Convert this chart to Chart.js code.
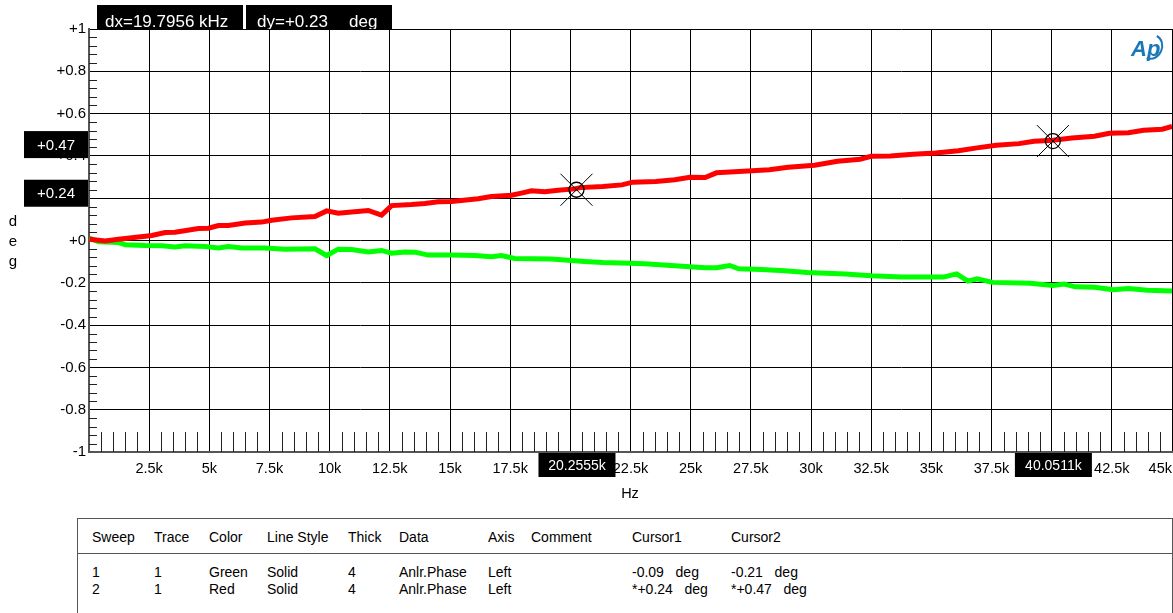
<!DOCTYPE html>
<html>
<head>
<meta charset="utf-8">
<script src="https://cdn.jsdelivr.net/npm/chart.js@4.4.1/dist/chart.umd.min.js"></script>
<style>
  body { margin: 0; background: #fff; font-family: Arial, "Liberation Sans", sans-serif; }
  #wrap { position: relative; width: 1173px; height: 613px; overflow: hidden; }
  #phaseChart { position: absolute; left: 0; top: 0; }
  #traceTable { position: absolute; left: 77px; top: 518px; width: 1094px; height: 120px;
    border: 1px solid #555; font-size: 14px; color: #000; }
  #traceTable .sep { position: absolute; left: 0; right: 0; top: 34px; border-top: 1px solid #555; }
  #traceTable span { position: absolute; white-space: pre; line-height: 16px; }
</style>
</head>
<body>
<div id="wrap">
  <canvas id="phaseChart" width="1173" height="510"></canvas>
  <div id="traceTable"><div class="sep"></div></div>
</div>
<script>
// sweep 1 (green) and sweep 2 (red), phase in deg vs frequency in Hz
const greenHz = [20, 397, 1227, 1504, 2334, 3026, 3579, 3994, 4825, 5378,
  5793, 6347, 7315, 8145, 9390, 9874, 10358, 10912, 11603, 12157,
  12572, 13125, 13540, 14094, 15062, 16031, 16722, 17137, 17691, 19212,
  20042, 20595, 21350, 22450, 23080, 24020, 24810, 25600, 26070, 26620,
  27000, 27950, 28900, 29840, 31410, 32500, 33770, 35500, 36050, 36520,
  36900, 37540, 39100, 40050, 40520, 40990, 41780, 42570, 43190, 43980, 45000];
const greenDeg = [0.011, -0.006, -0.009, -0.020, -0.024, -0.025, -0.031, -0.025, -0.028, -0.035,
  -0.028, -0.035, -0.035, -0.041, -0.039, -0.071, -0.041, -0.043, -0.054, -0.047,
  -0.060, -0.054, -0.055, -0.069, -0.068, -0.071, -0.077, -0.071, -0.085, -0.088,
  -0.094, -0.099, -0.104, -0.107, -0.110, -0.117, -0.123, -0.129, -0.129, -0.118,
  -0.134, -0.137, -0.143, -0.151, -0.158, -0.167, -0.173, -0.173, -0.158, -0.192,
  -0.181, -0.198, -0.202, -0.213, -0.206, -0.219, -0.221, -0.233, -0.227, -0.235, -0.239];

const redHz = [20, 674, 1227, 2611, 3164, 3579, 4548, 4963, 5378, 5793,
  6485, 7176, 7591, 8421, 9390, 9874, 10358, 10912, 11603, 12157,
  12572, 13402, 13956, 14509, 15062, 16169, 16722, 17552, 17967, 18382,
  18935, 19489, 20180, 20410, 21350, 22140, 22600, 23550, 24340, 24970,
  25600, 26070, 27000, 28270, 29050, 30150, 31100, 32040, 32500, 33300,
  34240, 35180, 36120, 36900, 37700, 38640, 39270, 40050, 40840, 41780,
  42400, 43190, 43820, 44600, 45000];
const redDeg = [0.006, -0.002, 0.006, 0.024, 0.038, 0.039, 0.057, 0.058, 0.071, 0.071,
  0.083, 0.087, 0.096, 0.107, 0.113, 0.140, 0.129, 0.135, 0.142, 0.120,
  0.165, 0.170, 0.175, 0.183, 0.184, 0.197, 0.208, 0.214, 0.224, 0.235,
  0.230, 0.238, 0.244, 0.250, 0.255, 0.263, 0.276, 0.279, 0.287, 0.299,
  0.298, 0.320, 0.326, 0.335, 0.346, 0.356, 0.375, 0.384, 0.398, 0.400,
  0.408, 0.414, 0.424, 0.438, 0.450, 0.458, 0.469, 0.474, 0.485, 0.493,
  0.507, 0.510, 0.521, 0.526, 0.539];

// cursors
const cursorHz = [20255.5, 40051.1];
const cursorDeg = [0.24, 0.47];
const cursorHzText = ['20.2555k', '40.0511k'];
const cursorDegText = ['+0.24', '+0.47'];

// legend table
const tableCols = ['Sweep', 'Trace', 'Color', 'Line Style', 'Thick', 'Data', 'Axis', 'Comment', 'Cursor1', 'Cursor2'];
const tableRows = [
  ['1', '1', 'Green', 'Solid', '4', 'Anlr.Phase', 'Left', '', '-0.09   deg', '-0.21   deg'],
  ['2', '1', 'Red', 'Solid', '4', 'Anlr.Phase', 'Left', '', '*+0.24   deg', '*+0.47   deg']
];
const colX = [14, 76, 131, 189, 270, 321, 410, 453, 554, 653];

const FONT = 'Arial, "Liberation Sans", sans-serif';

const table = document.getElementById('traceTable');
function cell(text, left, top) {
  const s = document.createElement('span');
  s.textContent = text;
  s.style.left = left + 'px';
  s.style.top = top + 'px';
  table.appendChild(s);
}
tableCols.forEach((c, i) => cell(c, colX[i], 10));
tableRows.forEach((r, j) => r.forEach((c, i) => cell(c, colX[i], 45 + j * 17)));

// black readout box; parts = [[text, x], ...] or a single centred text
function blackTag(ctx, x, y, w, h, parts, size) {
  ctx.save();
  ctx.fillStyle = '#000';
  ctx.fillRect(x, y, w, h);
  ctx.beginPath();
  ctx.rect(x, y, w, h);
  ctx.clip();
  ctx.fillStyle = '#fff';
  ctx.font = size + 'px ' + FONT;
  if (typeof parts === 'string') {
    ctx.textAlign = 'center';
    ctx.textBaseline = 'middle';
    ctx.fillText(parts, x + w / 2, y + h / 2 + 1);
  } else {
    ctx.textAlign = 'left';
    ctx.textBaseline = 'alphabetic';
    parts.forEach(p => ctx.fillText(p[0], p[1], y + h - 2));
  }
  ctx.restore();
}

const overlay = {
  id: 'overlay',
  beforeDatasetsDraw(chart) {
    const { ctx, chartArea: a, scales: { x, y } } = chart;
    ctx.save();
    ctx.strokeStyle = '#222';
    ctx.lineWidth = 1;
    ctx.beginPath();
    for (let hz = 500; hz < 45000; hz += 500) {
      if (hz % 2500 === 0) continue;
      const px = Math.round(x.getPixelForValue(hz)) + 0.5;
      ctx.moveTo(px, a.bottom - 20);
      ctx.lineTo(px, a.bottom);
    }
    for (let i = -24; i <= 24; i++) {
      if (i % 5 === 0) continue;
      const py = Math.round(y.getPixelForValue(i * 0.04)) + 0.5;
      ctx.moveTo(a.left, py);
      ctx.lineTo(a.left + 8, py);
    }
    ctx.stroke();
    ctx.restore();
  },
  afterDraw(chart) {
    const { ctx, chartArea: a, scales: { x, y } } = chart;

    // cursor markers
    ctx.save();
    ctx.strokeStyle = '#000';
    cursorHz.forEach((hz, i) => {
      const px = x.getPixelForValue(hz);
      const py = y.getPixelForValue(cursorDeg[i]);
      ctx.lineWidth = 1;
      ctx.beginPath();
      ctx.moveTo(px - 16, py - 16); ctx.lineTo(px + 16, py + 16);
      ctx.moveTo(px + 16, py - 16); ctx.lineTo(px - 16, py + 16);
      ctx.stroke();
      ctx.lineWidth = 1.3;
      ctx.beginPath();
      ctx.arc(px, py, 7.5, 0, Math.PI * 2);
      ctx.stroke();
    });
    ctx.restore();

    // cursor readouts
    blackTag(ctx, 97, 5, 146, 24, [['dx=19.7956 kHz', 105]], 17);
    blackTag(ctx, 246, 5, 146, 24, [['dy=+0.23', 257], ['deg', 349]], 17);
    cursorDeg.forEach((v, i) => {
      const py = y.getPixelForValue(v);
      blackTag(ctx, 24, py - 10, 64, 27, cursorDegText[i], 15);
    });
    cursorHz.forEach((hz, i) => {
      const px = x.getPixelForValue(hz);
      blackTag(ctx, px - 38, a.bottom + 1, 77, 24, cursorHzText[i], 14);
    });

    // axis titles
    ctx.save();
    ctx.fillStyle = '#000';
    ctx.font = '14.5px ' + FONT;
    ctx.textAlign = 'center';
    ctx.textBaseline = 'middle';
    ctx.fillText('Hz', 630, 494);
    ctx.font = '15px ' + FONT;
    ['d', 'e', 'g'].forEach((ch, i) => ctx.fillText(ch, 13, 222 + i * 20));
    ctx.restore();

    // Ap logo
    ctx.save();
    ctx.fillStyle = '#1b78b8';
    ctx.strokeStyle = '#1b78b8';
    ctx.font = 'italic bold 22px ' + FONT;
    ctx.textAlign = 'left';
    ctx.textBaseline = 'alphabetic';
    ctx.fillText('Ap', 1131, 56);
    ctx.lineWidth = 2;
    ctx.beginPath();
    ctx.ellipse(1152, 47, 10, 12, 0.35, -1.5, 1.7);
    ctx.stroke();
    ctx.restore();
  }
};

new Chart(document.getElementById('phaseChart'), {
  type: 'line',
  data: {
    datasets: [
      {
        label: 'Sweep 2',
        data: redHz.map((f, i) => ({ x: f, y: redDeg[i] })),
        borderColor: '#ff0000',
        borderWidth: 5,
        pointRadius: 0,
        tension: 0
      },
      {
        label: 'Sweep 1',
        data: greenHz.map((f, i) => ({ x: f, y: greenDeg[i] })),
        borderColor: '#00ff00',
        borderWidth: 5,
        pointRadius: 0,
        tension: 0
      }
    ]
  },
  options: {
    responsive: false,
    animation: false,
    devicePixelRatio: 1,
    layout: { padding: { top: 29, right: 1, bottom: 28, left: 0 } },
    plugins: {
      legend: { display: false },
      tooltip: { enabled: false }
    },
    scales: {
      x: {
        type: 'linear',
        min: 0,
        max: 45000,
        afterFit(s) { s.height = 30; s.paddingLeft = 0; s.paddingRight = 0; },
        ticks: {
          stepSize: 2500,
          autoSkip: false,
          maxRotation: 0,
          align: 'inner',
          padding: 8,
          color: '#000',
          font: { family: FONT, size: 14.5 },
          callback: v => (v === 0 || v === 20000 || v === 40000) ? '' : (v / 1000) + 'k'
        },
        grid: { color: '#000', lineWidth: 1, drawTicks: false },
        border: { color: '#555', width: 2 }
      },
      y: {
        min: -1,
        max: 1,
        afterFit(s) { s.width = 89; s.paddingTop = 0; s.paddingBottom = 0; },
        ticks: {
          stepSize: 0.2,
          padding: 3,
          color: '#000',
          font: { family: FONT, size: 15 },
          callback: v => {
            const r = Math.round(v * 10) / 10;
            return r > 0 ? '+' + r : (r === 0 ? '+0' : String(r));
          }
        },
        grid: { color: '#000', lineWidth: 1, drawTicks: false },
        border: { color: '#555', width: 2 }
      }
    }
  },
  plugins: [overlay]
});
</script>
</body>
</html>
